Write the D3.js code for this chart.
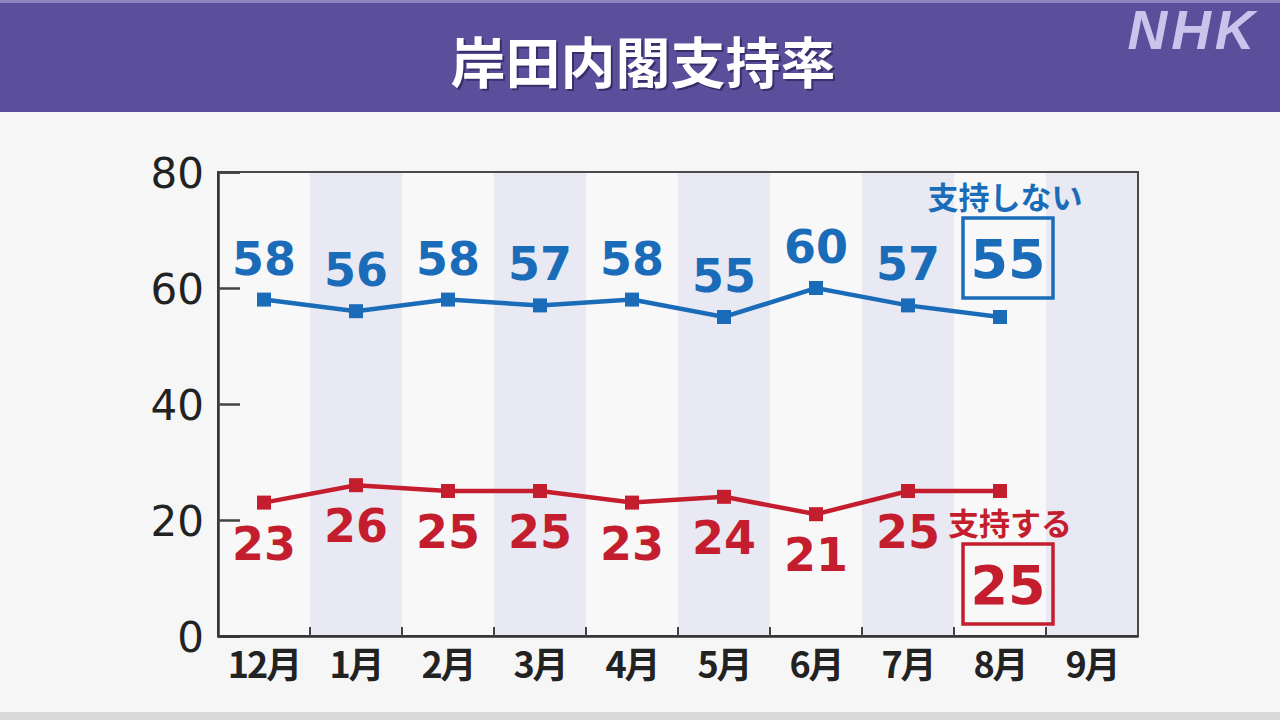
<!DOCTYPE html>
<html><head><meta charset="utf-8">
<script src="https://cdn.jsdelivr.net/npm/d3@7"></script>
<style>
html,body{margin:0;padding:0;background:#f6f6f6;}
svg{display:block;}
</style></head>
<body>
<svg id="c" width="1280" height="720"></svg>
<script>
const months = ["12月","1月","2月","3月","4月","5月","6月","7月","8月","9月"];
const support = [23,26,25,25,23,24,21,25,25];
const nonSupport = [58,56,58,57,58,55,60,57,55];
const yTicks = [0,20,40,60,80];
const title = "岸田内閣支持率";
const legendNon = "支持しない";
const legendSup = "支持する";

const svg = d3.select("#c");
const W=1280,H=720;
const blue="#1b6cb8", red="#c41e2e";
const num = "'DejaVu Sans', sans-serif";
const jp = "'Noto Sans CJK JP', sans-serif";

svg.append("rect").attr("width",W).attr("height",H).attr("fill","#f6f6f6");
svg.append("rect").attr("x",0).attr("y",712).attr("width",W).attr("height",8).attr("fill","#d9d9d9");
// title bar
svg.append("rect").attr("x",0).attr("y",0).attr("width",W).attr("height",112).attr("fill","#5b4f9c");
svg.append("rect").attr("x",0).attr("y",0).attr("width",W).attr("height",3).attr("fill","#8d84c0");
svg.append("text").attr("x",645).attr("y",61).attr("text-anchor","middle").attr("dominant-baseline","central")
  .attr("font-family",jp).attr("font-weight",700).attr("font-size",55).attr("fill","#2f2660").attr("opacity",0.8).text(title);
svg.append("text").attr("x",643).attr("y",59).attr("text-anchor","middle").attr("dominant-baseline","central")
  .attr("font-family",jp).attr("font-weight",700).attr("font-size",55).attr("fill","#ffffff").text(title);
svg.append("text").attr("x",1193).attr("y",30).attr("text-anchor","middle").attr("dominant-baseline","central")
  .attr("font-family","'Liberation Sans', Arial, sans-serif").attr("font-weight",700).attr("font-style","italic")
  .attr("font-size",55).attr("letter-spacing",4).attr("fill","#c9c4ec").text("NHK");

const L=218,R=1138,T=172,B=636;
const x = d3.scaleBand().domain(months).range([L,R]).padding(0);
const y = d3.scaleLinear().domain([0,80]).range([B,T]);
const cx = m => x(m)+x.bandwidth()/2;

// column bands
svg.append("g").selectAll("rect").data(months).join("rect")
  .attr("x",d=>x(d)).attr("y",T).attr("width",x.bandwidth()).attr("height",B-T)
  .attr("fill",(d,i)=> i%2===1 ? "#e9e9f4" : "#f8f8f8");

// frame
svg.append("rect").attr("x",L).attr("y",T).attr("width",R-L).attr("height",B-T)
  .attr("fill","none").attr("stroke","#4a4a4a").attr("stroke-width",2);

// y axis
const yAxis = d3.axisLeft(y).tickValues(yTicks).tickSize(-22).tickPadding(16);
const gy = svg.append("g").attr("transform",`translate(${L},0)`).call(yAxis);
gy.select(".domain").attr("stroke","#333").attr("stroke-width",2.5);
gy.selectAll(".tick line").attr("stroke","#444").attr("stroke-width",2.5);
gy.selectAll(".tick text").attr("font-family",num).attr("font-size",42).attr("fill","#222").attr("x",-14).attr("dy","0.36em");

// x axis
const xAxis = d3.axisBottom(x).tickSize(0).tickPadding(22);
const gx = svg.append("g").attr("transform",`translate(0,${B})`).call(xAxis);
gx.select(".domain").attr("stroke","#333").attr("stroke-width",2.5);
gx.selectAll(".tick text").attr("font-family",jp).attr("font-weight",700).attr("font-size",36)
  .attr("letter-spacing",-2).attr("fill","#222").attr("dy","0.55em");
// boundary ticks
svg.append("g").selectAll("line").data(months.slice(1)).join("line")
  .attr("x1",d=>x(d)).attr("x2",d=>x(d)).attr("y1",B).attr("y2",B-9)
  .attr("stroke","#444").attr("stroke-width",2);

function series(vals,color,dir){
  const pts = vals.map((v,i)=>({m:months[i],v}));
  const line = d3.line().x(d=>cx(d.m)).y(d=>y(d.v));
  svg.append("path").datum(pts).attr("d",line).attr("fill","none").attr("stroke",color).attr("stroke-width",4.5);
  svg.append("g").selectAll("rect").data(pts).join("rect")
    .attr("x",d=>cx(d.m)-7).attr("y",d=>y(d.v)-7).attr("width",14).attr("height",14).attr("fill",color);
  svg.append("g").selectAll("text").data(pts.slice(0,-1)).join("text")
    .attr("x",d=>cx(d.m)).attr("y",d=>y(d.v)+dir*41).attr("text-anchor","middle").attr("dominant-baseline","central")
    .attr("font-family",num).attr("font-weight",700).attr("font-size",46).attr("fill",color).text(d=>d.v);
  return pts[pts.length-1];
}
const lastN = series(nonSupport,blue,-1);
const lastS = series(support,red,1);

// boxed latest values
function boxed(p,color,cyOff,legend,legOff){
  const bx = cx(p.m)+8, by = y(p.v)+cyOff;
  svg.append("rect").attr("x",bx-45).attr("y",by-40).attr("width",90).attr("height",80)
    .attr("fill","none").attr("stroke",color).attr("stroke-width",3.5);
  svg.append("text").attr("x",bx).attr("y",by+1).attr("text-anchor","middle").attr("dominant-baseline","central")
    .attr("font-family",num).attr("font-weight",700).attr("font-size",54).attr("fill",color).text(p.v);
  svg.append("text").attr("x",bx+(legOff[0])).attr("y",by+legOff[1]).attr("text-anchor","middle").attr("dominant-baseline","central")
    .attr("font-family",jp).attr("font-weight",700).attr("font-size",31).attr("fill",color).text(legend);
}
boxed(lastN,blue,-59,legendNon,[-3,-63]);
boxed(lastS,red,+93,legendSup,[2,-63]);
</script>
</body></html>
